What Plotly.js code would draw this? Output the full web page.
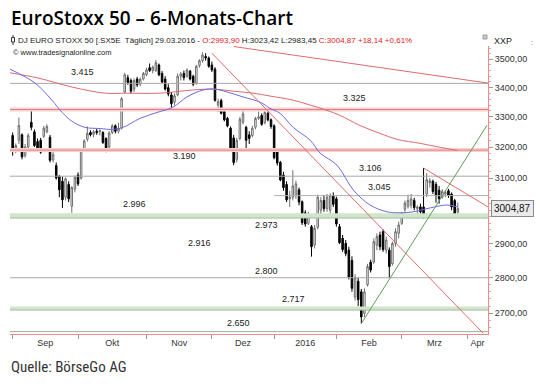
<!DOCTYPE html>
<html><head><meta charset="utf-8">
<script src="https://cdn.plot.ly/plotly-3.0.1.min.js"></script>
<style>html,body{margin:0;padding:0;background:#fff;}#chart{width:540px;height:386px;}</style>
</head><body><div id="chart"></div>
<script>
// ---- data (trading-day index 0 = first candle, 2 Sep 2015) ----
const opens = [
 3238,3196,3222,3240,3172,3200,3282,3250,3218,3222,3235,3250,3232,3158,3140,3105,3090,3040,3080,3012,3065,
 3110,3100,3190,3225,3248,3242,3252,3250,3248,3228,3200,3248,3270,3252,3262,3385,3435,3425,3395,3430,3412,3430,
 3445,3470,3460,3460,3480,3450,3430,3400,3375,3350,3375,3440,3450,3440,3458,3440,3415,3478,3495,3510,3505,
 3480,3465,3340,3356,3318,3295,3262,3230,3160,3228,3282,3265,3240,3238,3265,3295,3305,3280,3312,3290,
 3270,3188,3150,3110,3080,3035,3040,3045,3063,3026,2992,2960,2950,2895,2948,3000,3030,3005,3000,3045,
 3035,2950,2915,2900,2880,2850,2745,2790,2760,2700,2780,2845,2845,2895,2925,2935,2880,2880,2840,2900,2930,
 2960,3002,3012,3015,3030,3005,3010,3010,3050,3085,3090,3080,3062,3040,3050,3060,3050,3030,2993.90];
const highs = [
 3248,3212,3298,3245,3210,3245,3329,3258,3228,3230,3270,3275,3240,3185,3150,3110,3105,3102,3090,3075,3108,
 3118,3192,3225,3268,3255,3256,3260,3258,3252,3232,3252,3275,3275,3280,3368,3452,3445,3432,3432,3438,3435,3455,
 3470,3485,3478,3497,3485,3458,3440,3412,3385,3380,3450,3455,3460,3468,3462,3445,3480,3500,3525,3522,3510,
 3492,3472,3362,3362,3325,3300,3268,3240,3230,3300,3320,3270,3252,3270,3300,3318,3312,3322,3318,3295,
 3275,3195,3155,3120,3090,3060,3125,3092,3070,3030,3000,2995,2955,2955,3048,3040,3045,3050,3052,3055,
 3042,2958,2925,2910,2890,2862,2810,2800,2768,2770,2840,2852,2915,2930,2935,2942,2920,2888,2905,2945,2965,
 2995,3030,3048,3050,3038,3015,3020,3132,3116,3100,3095,3088,3075,3065,3062,3066,3055,3035,3023.42];
const lows = [
 3172,3180,3210,3160,3165,3195,3255,3200,3185,3178,3230,3245,3150,3150,3095,3040,3007,3030,3025,2992,3055,
 3075,3095,3185,3218,3235,3232,3240,3238,3210,3183,3195,3242,3245,3245,3258,3380,3410,3380,3385,3402,3405,3425,
 3440,3455,3450,3455,3440,3415,3390,3370,3330,3340,3370,3425,3425,3435,3425,3405,3410,3470,3488,3495,3470,
 3455,3352,3316,3308,3285,3265,3185,3141,3150,3222,3275,3189,3210,3232,3258,3290,3270,3275,3285,3260,
 3160,3140,3090,3060,3025,3010,3030,3035,3015,2955,2950,2955,2861,2885,2942,2985,2995,2995,2990,3010,
 2950,2898,2875,2862,2795,2760,2735,2720,2672,2690,2775,2815,2840,2880,2880,2875,2870,2800,2835,2890,2915,
 2955,2995,3005,3005,3000,2975,2985,2975,3040,3070,3050,3023,3020,3035,3040,3038,3000,2980,2983.45];
const closes = [
 3196,3205,3271,3168,3200,3238,3265,3205,3192,3183,3262,3268,3157,3175,3100,3063,3032,3098,3035,3070,3102,
 3082,3188,3220,3245,3240,3250,3248,3254,3215,3195,3246,3270,3252,3262,3362,3445,3418,3388,3425,3410,3430,3450,
 3462,3460,3472,3488,3445,3420,3395,3378,3345,3372,3440,3448,3435,3462,3430,3412,3475,3495,3515,3505,3475,
 3462,3356,3352,3312,3290,3270,3192,3150,3222,3292,3310,3222,3228,3262,3295,3300,3275,3315,3290,3268,
 3165,3148,3094,3070,3032,3040,3075,3082,3025,2962,2958,2985,2890,2945,3040,3030,3005,3040,3045,3018,
 2958,2902,2882,2870,2802,2770,2800,2738,2690,2760,2832,2822,2905,2920,2890,2882,2910,2832,2900,2935,2955,
 2990,3022,3030,3035,3008,3010,2995,2985,3095,3092,3058,3045,3035,3058,3055,3045,3010,2986.73,3004.87];

const monthStarts = [0,21,43,64,84,104,125,146];
const monthLabels = ['Sep','Okt','Nov','Dez','2016','Feb','Mrz','Apr'];
const yTicks = [2700,2800,2900,3100,3200,3300,3400,3500];

// moving averages
const ma50X = [-0.85,7.2,12.6,15.9,19.1,23.2,28.1,32.3,35.5,40.9,46.4,51.5,56,61.2,65,68.9,74,79.5,82.7,85.9,90.1,95.6,98.8,104.2,109.4,114.8,120.3,124.5,128.6,134.1,139.6,143];
const ma50Y = [3465,3416,3357,3315,3285,3265,3261,3258,3265,3295,3315,3333,3368,3392,3395,3385,3368,3350,3329,3312,3265,3222,3180,3141,3063,3016,2995,2992,2995,3007,3016,3010];
const ma200X = [-0.85,8.1,19.1,29.7,36.7,47.3,57.9,64.4,70.8,77.2,82.7,90.1,95.6,101,105.2,111.6,118,123.5,130.9,137.3,142.8];
const ma200Y = [3452,3434,3402,3381,3381,3381,3392,3395,3388,3381,3371,3357,3340,3322,3305,3271,3245,3225,3212,3199,3189];

// trend lines (start/end)
const trendLongX = [71,152.7],   trendLongY = [3546,3416];
const trendSteepX = [64,151.1],  trendSteepY = [3522,2646];
const trendShortX = [132,152.7], trendShortY = [3132,3010];
const trendUpX = [112,152.4],    trendUpY = [2672,3272];

// levels
const grayLevels = [3415,3106,2800,2650];
const partialLevel = 3045, partialFrom = 84;
const redZones = [3325,3190];
const greenZones = [[2976,2991],[2709,2719]];
const levelLabels = [3415,3325,3190,3106,3045,2996,2973,2916,2800,2717,2650];

// ---- build ----
const X0 = -0.85, X1 = 152.7;
const idx = closes.map((_, i) => i);
const fmtDot = v => String(v).replace(/\B(?=(\d{3})+(?!\d))/g, '.');
const fmtComma = v => v.toFixed(2).replace('.', ',');
const PXDEC = 2253.8;
const traces = [];

greenZones.forEach(z => {
  traces.push({type:'scatter',mode:'lines',x:[X0,X1,X1,X0,X0],y:[z[0],z[0],z[1],z[1],z[0]],
    fill:'toself',fillcolor:'#cfe6c8',line:{width:0},hoverinfo:'skip'});
  traces.push({type:'scatter',mode:'lines',x:[X0,X1],y:[z[0],z[0]],line:{color:'#a9b8a6',width:1},hoverinfo:'skip'});
});
redZones.forEach(v => {
  const f = Math.pow(10, 2/PXDEC);
  traces.push({type:'scatter',mode:'lines',x:[X0,X1,X1,X0,X0],y:[v/f,v/f,v*f,v*f,v/f],
    fill:'toself',fillcolor:'#f8d0d0',line:{width:0},hoverinfo:'skip'});
  traces.push({type:'scatter',mode:'lines',x:[X0,X1],y:[v,v],line:{color:'#e38080',width:1},hoverinfo:'skip'});
});
grayLevels.forEach(v => {
  traces.push({type:'scatter',mode:'lines',x:[X0,X1],y:[v,v],line:{color:'#a8a8a8',width:1},hoverinfo:'skip'});
});
traces.push({type:'scatter',mode:'lines',x:[partialFrom,X1],y:[partialLevel,partialLevel],line:{color:'#b0b0b0',width:1},hoverinfo:'skip'});

traces.push({type:'scatter',mode:'lines',x:ma200X,y:ma200Y,line:{color:'#e06a6a',width:1,shape:'spline'},hoverinfo:'skip'});
traces.push({type:'scatter',mode:'lines',x:ma50X,y:ma50Y,line:{color:'#6b6be0',width:1,shape:'spline'},hoverinfo:'skip'});
[[trendLongX,trendLongY],[trendSteepX,trendSteepY],[trendShortX,trendShortY]].forEach(t => {
  traces.push({type:'scatter',mode:'lines',x:t[0],y:t[1],line:{color:'#e06a6a',width:1},hoverinfo:'skip'});
});
traces.push({type:'scatter',mode:'lines',x:trendUpX,y:trendUpY,line:{color:'#5c9e52',width:1},hoverinfo:'skip'});

traces.push({type:'candlestick',x:idx,open:opens,high:highs,low:lows,close:closes,
  increasing:{line:{color:'#6e6e6e',width:1},fillcolor:'#ffffff'},
  decreasing:{line:{color:'#000000',width:1},fillcolor:'#000000'},
  whiskerwidth:0,hoverinfo:'skip'});

// month label positions = midpoints between month starts
const labelPos = monthLabels.map((m, k) => {
  const a = monthStarts[k], b = (k+1 < monthStarts.length) ? monthStarts[k+1] : X1;
  return (a + b) / 2;
});

const minorY = [];
for (let v = 2660; v <= 3540; v += 20) minorY.push(v);

// label placements (x in trading-day index, shift in px)
const labelX = {3415:22.3,3325:109.7,3190:55.1,3106:114.8,3045:117.7,2996:39.3,2973:81.4,2916:59.9,2800:81.4,2717:90.1,2650:72.4};
const labelShift = {3415:11,3325:12,3190:-6,3106:8,3045:9,2996:8,2973:-6,2916:-5,2800:7,2717:8,2650:9};

const L = 10, R = 488, T = 46, B = 334;
const px = x => (x - L) / (R - L);
const py = y => (B - y) / (B - T);

const annotations = levelLabels.map(v => ({
  x: labelX[v], y: Math.log10(v), xref:'x', yref:'y', text: fmtDot(v), showarrow:false,
  yshift: labelShift[v], xanchor:'center', yanchor:'middle',
  font:{family:'Liberation Sans, Arial, sans-serif', size:9, color:'#222'}
}));

annotations.push(
  {xref:'paper',yref:'paper',x:px(9),y:py(18.5),xanchor:'left',yanchor:'middle',showarrow:false,
   text:'EuroStoxx 50 \u2013 6-Monats-Chart',
   font:{family:'Open Sans, sans-serif',size:19,weight:600,color:'#000'}},
  {xref:'paper',yref:'paper',x:px(16),y:py(40.5),xanchor:'left',yanchor:'middle',showarrow:false,
   text:'DJ EURO STOXX 50 [.SX5E  T\u00e4glich] 29.03.2016 - <span style="color:#e02020">O:2993,90</span> H:3023,42 L:2983,45 <span style="color:#e02020">C:3004,87 +18,14 +0,61%</span>',
   font:{family:'Liberation Sans, Arial, sans-serif',size:8,color:'#222'}},
  {xref:'paper',yref:'paper',x:px(11),y:py(52),xanchor:'left',yanchor:'middle',showarrow:false,
   text:'\u00a9 www.tradesignalonline.com',
   font:{family:'Liberation Sans, Arial, sans-serif',size:7.5,color:'#222'}},
  {xref:'paper',yref:'paper',x:px(492),y:py(41),xanchor:'left',yanchor:'middle',showarrow:false,
   text:'XXP',font:{family:'Liberation Sans, Arial, sans-serif',size:9,color:'#222'}},
  {xref:'paper',yref:'paper',x:px(529),y:py(43),xanchor:'left',yanchor:'middle',showarrow:false,
   text:':',font:{family:'Liberation Sans, Arial, sans-serif',size:7,color:'#555'}},
  {xref:'paper',yref:'y',x:px(491),y:Math.log10(closes[closes.length-1]),xanchor:'left',yanchor:'middle',showarrow:false,
   text:fmtComma(closes[closes.length-1]),bgcolor:'#ebebeb',bordercolor:'#8a8a8a',borderwidth:1,borderpad:2,
   font:{family:'Liberation Sans, Arial, sans-serif',size:10,color:'#111'}},
  {xref:'paper',yref:'paper',x:px(9),y:py(367),xanchor:'left',yanchor:'middle',showarrow:false,
   text:'Quelle: B\u00f6rseGo AG',
   font:{family:'Liberation Sans Narrow, Roboto Condensed, Roboto, sans-serif',size:15,color:'#333'}}
);

const shapes = [
  {type:'line',xref:'paper',yref:'paper',x0:px(13),x1:px(13),y0:py(35),y1:py(45),line:{color:'#333',width:1}},
  {type:'rect',xref:'paper',yref:'paper',x0:px(11.5),x1:px(14.5),y0:py(37.5),y1:py(42),fillcolor:'#fff',line:{color:'#333',width:1}},
  {type:'rect',xref:'paper',yref:'paper',x0:px(483),x1:px(487),y0:py(35),y1:py(39),fillcolor:'#ccc',line:{color:'#999',width:1}}
];

const layout = {
  width:540, height:386, margin:{l:L, r:540-R, t:T, b:386-B, pad:0},
  paper_bgcolor:'#fff', plot_bgcolor:'#fff', showlegend:false, hovermode:false, dragmode:false,
  font:{family:'Liberation Sans, Arial, sans-serif', size:9, color:'#333'},
  xaxis:{type:'linear', range:[X0,X1], showgrid:false, zeroline:false,
    showline:true, linecolor:'#f08a8a', linewidth:1,
    tickmode:'array', tickvals:labelPos, ticktext:monthLabels, ticks:'', ticklen:0,
    tickfont:{size:9,color:'#333'}, fixedrange:true,
    rangeslider:{visible:false},
    minor:{tickmode:'array', tickvals:monthStarts, ticks:'outside', ticklen:4, tickcolor:'#999', tickwidth:1, showgrid:false}},
  yaxis:{type:'log', side:'right', range:[3.42219,3.54997], showgrid:false, zeroline:false,
    showline:true, linecolor:'#f08a8a', linewidth:1,
    tickmode:'array', tickvals:yTicks, ticktext:yTicks.map(fmtComma), ticks:'outside', ticklen:4,
    tickcolor:'#999', tickfont:{size:9,color:'#333'}, fixedrange:true,
    minor:{tickmode:'array', tickvals:minorY, ticks:'outside', ticklen:2, tickcolor:'#f0a0a0', showgrid:false}},
  annotations, shapes
};

Plotly.newPlot('chart', traces, layout, {staticPlot:true, displayModeBar:false});
</script></body></html>
